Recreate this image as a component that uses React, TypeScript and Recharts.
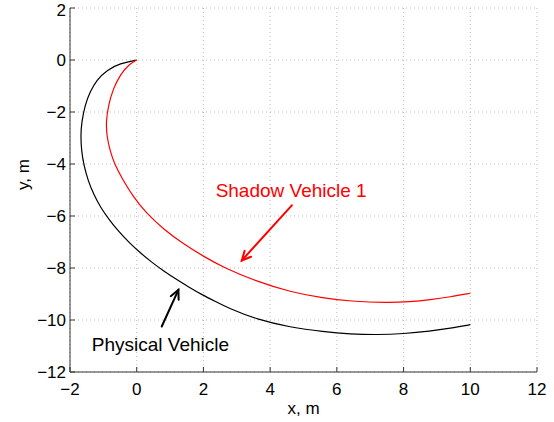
import React from 'react'
import {
  LineChart,
  Line,
  XAxis,
  YAxis,
  CartesianGrid,
  ReferenceLine,
  ReferenceDot,
  Label,
} from 'recharts'

document.body.style.margin = '0'

// trajectory of the physical vehicle (x, y in metres)
const physicalX = [
  0, -0.5, -0.9, -1.2, -1.4, -1.55, -1.65, -1.68, -1.655, -1.58, -1.46, -1.29,
  -1.08, -0.82, -0.54, -0.23, 0.1, 0.45, 0.81, 1.19, 1.57, 1.96, 2.36, 2.76,
  3.6, 4.6, 5.6, 6.4, 7.2, 8, 8.8, 9.4, 10,
]
const physicalY = [
  0, -0.13, -0.39, -0.77, -1.22, -1.73, -2.38, -2.9, -3.51, -4.08, -4.63,
  -5.17, -5.68, -6.15, -6.6, -7.02, -7.41, -7.78, -8.12, -8.44, -8.74, -9.03,
  -9.29, -9.55, -9.98, -10.28, -10.45, -10.54, -10.57, -10.53, -10.43, -10.32,
  -10.18,
]

// trajectory of shadow vehicle 1
const shadowX = [
  0, -0.25, -0.5, -0.7, -0.85, -0.92, -0.9, -0.8, -0.66, -0.42, -0.1, 0.3, 0.8,
  1.4, 2, 2.6, 3.6, 4.6, 5.6, 6.4, 7.5, 8.2, 8.8, 9.4, 10,
]
const shadowY = [
  0, -0.19, -0.58, -1.09, -1.73, -2.38, -2.9, -3.5, -4.02, -4.6, -5.27, -5.91,
  -6.5, -7.08, -7.55, -7.98, -8.52, -8.92, -9.16, -9.28, -9.34, -9.3, -9.22,
  -9.11, -8.97,
]

const xTicks = [-2, 0, 2, 4, 6, 8, 10, 12]
const yTicks = [-12, -10, -8, -6, -4, -2, 0, 2]

const physicalData = physicalX.map((x, i) => ({ x, y: physicalY[i] }))
const shadowData = shadowX.map((x, i) => ({ x, y: shadowY[i] }))

const FONT = '"Liberation Sans", Arial, Helvetica, sans-serif'
const fmt = (v: number) => String(v).replace('-', '\u2212')

const Arrow = (props: any) => {
  const { x1, y1, x2, y2, color } = props
  const a = Math.atan2(y2 - y1, x2 - x1)
  const len = 10
  const spread = 0.45
  const ax = x2 - len * Math.cos(a - spread)
  const ay = y2 - len * Math.sin(a - spread)
  const bx = x2 - len * Math.cos(a + spread)
  const by = y2 - len * Math.sin(a + spread)
  return (
    <g stroke={color} strokeWidth={2} fill="none" strokeLinecap="round">
      <line x1={x1} y1={y1} x2={x2} y2={y2} />
      <polyline points={`${ax},${ay} ${x2},${y2} ${bx},${by}`} />
    </g>
  )
}

const Note = (text: string, color: string) => (props: any) => (
  <text
    x={props.cx}
    y={props.cy}
    textAnchor="middle"
    fill={color}
    fontSize={19}
    fontFamily={FONT}
  >
    {text}
  </text>
)

export default function App() {
  return (
    <LineChart
      width={554}
      height={422}
      margin={{ top: 8, right: 17, bottom: 20, left: 20 }}
      style={{ fontFamily: FONT }}
    >
      <CartesianGrid stroke="#bbb" strokeDasharray="1 3" />
      <XAxis
        type="number"
        dataKey="x"
        domain={[-2, 12]}
        ticks={xTicks}
        allowDataOverflow
        height={30}
        stroke="#333"
        tickSize={-5}
        tickMargin={16}
        tick={{ fill: '#000', fontSize: 17 }}
        tickFormatter={fmt}
      >
        <Label value="x, m" position="insideBottom" offset={-12} fill="#000" fontSize={17} />
      </XAxis>
      <YAxis
        type="number"
        dataKey="y"
        domain={[-12, 2]}
        ticks={yTicks}
        allowDataOverflow
        width={50}
        stroke="#333"
        tickSize={-5}
        tickMargin={9}
        tick={{ fill: '#000', fontSize: 17 }}
        tickFormatter={fmt}
      >
        <Label value="y, m" angle={-90} position="insideLeft" offset={3} fill="#000" fontSize={17} />
      </YAxis>
      <Line
        data={physicalData}
        dataKey="y"
        type="basis"
        stroke="#000"
        strokeWidth={1.2}
        dot={false}
        isAnimationActive={false}
      />
      <Line
        data={shadowData}
        dataKey="y"
        type="basis"
        stroke="#ff0000"
        strokeWidth={1.2}
        dot={false}
        isAnimationActive={false}
      />
      <ReferenceLine
        segment={[{ x: 4.65, y: -5.59 }, { x: 3.15, y: -7.71 }]}
        shape={(p: any) => <Arrow {...p} color="#ff0000" />}
      />
      <ReferenceLine
        segment={[{ x: 0.75, y: -10.25 }, { x: 1.25, y: -8.84 }]}
        shape={(p: any) => <Arrow {...p} color="#000" />}
      />
      <ReferenceDot x={4.63} y={-5.27} r={0} shape={Note('Shadow Vehicle 1', '#ff0000')} />
      <ReferenceDot x={0.71} y={-11.18} r={0} shape={Note('Physical Vehicle', '#000')} />
    </LineChart>
  )
}
